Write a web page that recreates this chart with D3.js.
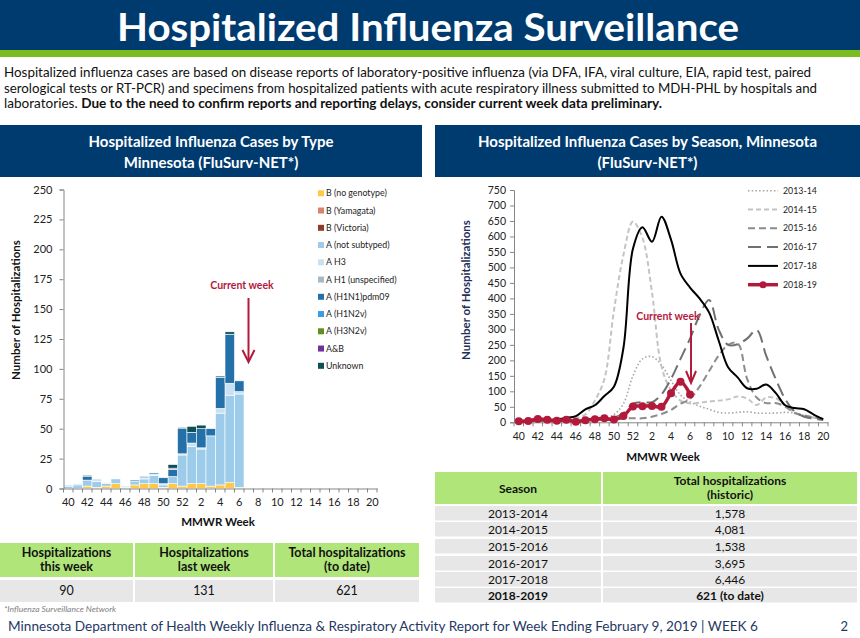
<!DOCTYPE html>
<html><head><meta charset="utf-8">
<script src="https://cdn.jsdelivr.net/npm/d3@7"></script>
<style>
html,body{margin:0;padding:0;background:#fff;}
svg{display:block;font-family:Lato,"Open Sans",sans-serif;}
</style></head><body>
<svg id="c" width="860" height="638"></svg>
<script>
// ---------- DATA ----------
const weeks = ["40","41","42","43","44","45","46","47","48","49","50","51","52","1","2","3","4","5","6","7","8","9","10","11","12","13","14","15","16","17","18","19","20"];
const xTickLabels = ["40","42","44","46","48","50","52","2","4","6","8","10","12","14","16","18","20"];
const dataWeeks = ["40","41","42","43","44","45","46","47","48","49","50","51","52","1","2","3","4","5","6"];

const typeNames = ["B (no genotype)","B (Yamagata)","B (Victoria)","A (not subtyped)","A H3","A H1 (unspecified)","A (H1N1)pdm09","A (H1N2v)","A (H3N2v)","A&B","Unknown"];
const typeColors = ["#FFC846","#D9826C","#8E3B2B","#9DCBEA","#C8E1F3","#A7B9C4","#2470A9","#3A9BE8","#5E8F1F","#7030A0","#0E4E55"];
const bNoGenotype   = [0,0,2,1,2,4,0,3,4,4,1,4,2,4,4,2,3,5,1];
const bYamagata     = [0,0,0,0,0,0,0,0,0,0,0,0,0,0,0,0,0,0,0];
const bVictoria     = [0,0,0,0,0,0,0,0,0,0,0,0,0,0,0,0,0,0,0];
const aNotSubtyped  = [2,3,5,5,2,4,1,3,4,7,2,6,26,31,29,42,60,73,78];
const aH3           = [1,1,0,2,1,0,1,0,1,1,1,0,1,3,1,0,4,10,2];
const aH1Unspec     = [0,0,0,0,0,0,0,0,0,0,0,0,0,0,0,0,0,0,0];
const aH1N1pdm09    = [0,0,3,0,0,0,0,1,1,1,5,6,21,9,16,6,26,41,9];
const aH1N2v        = [0,0,0,0,0,0,0,0,0,0,0,0,0,0,0,0,0,0,0];
const aH3N2v        = [0,0,0,0,0,0,0,0,0,0,0,0,0,0,0,0,0,0,0];
const aAndB         = [0,0,0,0,0,0,0,0,0,0,0,1,0,0,0,0,0,0,0];
const unknown       = [0,0,1,0,0,0,0,0,0,0,0,3,1,5,3,0,1,2,0];
const typeSeries = [bNoGenotype,bYamagata,bVictoria,aNotSubtyped,aH3,aH1Unspec,aH1N1pdm09,aH1N2v,aH3N2v,aAndB,unknown];

const seasonNames = ["2013-14","2014-15","2015-16","2016-17","2017-18","2018-19"];
const s2013 = [3,3,4,4,5,5,6,7,8,12,25,60,150,205,212,185,135,88,66,52,42,32,30,32,34,30,29,30,32,30,22,16,10];
const s2014 = [3,4,5,6,8,10,14,25,70,140,360,540,648,595,420,180,104,70,61,63,67,70,74,83,77,56,80,78,55,32,20,15,10];
const s2015 = [3,3,4,4,5,5,6,6,8,8,10,12,13,13,18,27,40,60,75,115,165,215,250,255,140,80,62,62,51,30,22,16,10];
const s2016 = [3,3,4,4,5,6,6,7,8,10,15,30,60,65,65,90,140,205,270,345,395,300,250,252,270,298,215,140,75,35,18,12,7];
const s2017 = [5,5,8,8,10,14,20,42,55,85,115,240,560,630,583,664,590,480,435,400,355,265,178,145,110,108,122,95,55,46,42,25,10];
const s2018 = [3,4,11,8,5,8,2,7,10,13,9,20,51,52,53,50,94,131,90];

const seasonRows = ["2013-2014","2014-2015","2015-2016","2016-2017","2017-2018","2018-2019"];
const seasonTotals = ["1,578","4,081","1,538","3,695","6,446","621 (to date)"];
const weekHeaders = [["Hospitalizations","this week"],["Hospitalizations","last week"],["Total hospitalizations","(to date)"]];
const weekValues = ["90","131","621"];

// ---------- STYLE ----------
const NAVY = "#003B6F", GREEN = "#7ABD21", TGREEN = "#B0E57A", TGREY = "#E7E7E7", CRIM = "#B3193B";
const svg = d3.select("#c");

// Header
svg.append("rect").attr("x",0).attr("y",0).attr("width",860).attr("height",50).attr("fill",NAVY);
svg.append("rect").attr("x",0).attr("y",50).attr("width",860).attr("height",7).attr("fill",GREEN);
svg.append("text").attr("x",428).attr("y",41).attr("text-anchor","middle").attr("fill","#fff")
  .attr("font-size",38).attr("font-weight",700).attr("textLength",622).attr("lengthAdjust","spacingAndGlyphs")
  .text("Hospitalized Influenza Surveillance");

// Paragraph
const para = [
  {t:"Hospitalized influenza cases are based on disease reports of laboratory-positive influenza (via DFA, IFA, viral culture, EIA, rapid test, paired", w:807},
  {t:"serological tests or RT-PCR) and specimens from hospitalized patients with acute respiratory illness submitted to MDH-PHL by hospitals and", w:813}
];
para.forEach((p,i)=>{
  svg.append("text").attr("x",4).attr("y",77+i*15.5).attr("font-size",12.5).attr("fill","#111")
    .attr("textLength",p.w).attr("lengthAdjust","spacingAndGlyphs").text(p.t);
});
const l3 = svg.append("text").attr("x",4).attr("y",108).attr("font-size",12.5).attr("fill","#111")
  .attr("textLength",658).attr("lengthAdjust","spacingAndGlyphs");
l3.append("tspan").text("laboratories. ");
l3.append("tspan").attr("font-weight",700).text("Due to the need to confirm reports and reporting delays, consider current week data preliminary.");

// Panel headers
function panelHeader(x,w,lines){
  svg.append("rect").attr("x",x).attr("y",125).attr("width",w).attr("height",52).attr("fill",NAVY);
  lines.forEach((l,i)=>svg.append("text").attr("x",x+w/2).attr("y",146.5+i*21).attr("text-anchor","middle")
    .attr("fill","#fff").attr("font-size",15).attr("font-weight",700).text(l));
}
panelHeader(0,422,["Hospitalized Influenza Cases by Type","Minnesota (FluSurv-NET*)"]);
panelHeader(435,425,["Hospitalized Influenza Cases by Season, Minnesota","(FluSurv-NET*)"]);

// ---------- LEFT CHART ----------
const xL = d3.scaleBand().domain(weeks).range([63.5, 63.5+33*9.5]).padding(0);
const yL = d3.scaleLinear().domain([0,250]).range([488.5,189.5]);
const rows = dataWeeks.map((w,i)=>{ const r={week:w}; typeNames.forEach((n,k)=>r[n]=typeSeries[k][i]); return r; });
const stacked = d3.stack().keys(typeNames)(rows);
const gL = svg.append("g");
stacked.forEach((layer,k)=>{
  gL.append("g").attr("fill",typeColors[k]).selectAll("rect").data(layer.filter(d=>d[1]>d[0])).join("rect")
    .attr("x",d=>xL(d.data.week)).attr("width",xL.bandwidth())
    .attr("y",d=>yL(d[1])).attr("height",d=>yL(d[0])-yL(d[1]))
    .attr("stroke","#fff").attr("stroke-width",0.6);
});
const yAxL = svg.append("g").attr("transform",`translate(${xL.range()[0]},0)`)
  .call(d3.axisLeft(yL).tickValues(d3.range(0,251,25)).tickSize(4).tickPadding(7));
const xAxL = svg.append("g").attr("transform",`translate(0,${yL(0)})`)
  .call(d3.axisBottom(xL).tickValues(xTickLabels).tickSize(0).tickPadding(10));
svg.append("g").selectAll("line").data(weeks.concat(["_end"])).join("line")
  .attr("x1",(d,i)=>xL.range()[0]+i*xL.step()).attr("x2",(d,i)=>xL.range()[0]+i*xL.step())
  .attr("y1",yL(0)).attr("y2",yL(0)+4).attr("stroke","#868686");
[yAxL,xAxL].forEach(a=>{a.selectAll("path.domain,line").attr("stroke","#868686");
  a.selectAll("text").attr("font-size",11).attr("fill","#222").attr("font-family","Lato");});
svg.append("text").attr("transform","translate(20,310) rotate(-90)").attr("text-anchor","middle")
  .attr("font-size",11.5).attr("font-weight",700).attr("fill","#111").text("Number of Hospitalizations");
svg.append("text").attr("x",218).attr("y",526).attr("text-anchor","middle")
  .attr("font-size",11.5).attr("font-weight",700).attr("fill","#111").text("MMWR Week");
// current week
svg.append("text").attr("x",242).attr("y",289).attr("text-anchor","middle").attr("font-size",10.5)
  .attr("font-weight",700).attr("fill",CRIM).text("Current week");
const axL = xL("6")+xL.bandwidth()+4.5;
svg.append("line").attr("x1",axL).attr("x2",axL).attr("y1",298).attr("y2",360).attr("stroke",CRIM).attr("stroke-width",2);
svg.append("path").attr("d",`M${axL-6},${350}L${axL},${362}L${axL+6},${350}`).attr("fill","none").attr("stroke",CRIM).attr("stroke-width",2);
// legend
const lg = svg.append("g");
typeNames.forEach((n,k)=>{
  const y = 193.3 + k*17.25;
  lg.append("rect").attr("x",318).attr("y",y-3).attr("width",6).attr("height",6).attr("fill",typeColors[k]);
  lg.append("text").attr("x",326).attr("y",y+3).attr("font-size",8.8).attr("fill","#222").text(n);
});

// ---------- RIGHT CHART ----------
const xR = d3.scaleBand().domain(weeks).range([514, 828]).padding(0);
const yR = d3.scaleLinear().domain([0,750]).range([422.3,190]);
const cx = w => xR(w)+xR.bandwidth()/2;
const yAxR = svg.append("g").attr("transform",`translate(514,0)`)
  .call(d3.axisLeft(yR).tickValues(d3.range(0,751,50)).tickSize(4).tickPadding(4));
const xAxR = svg.append("g").attr("transform",`translate(0,${yR(0)})`)
  .call(d3.axisBottom(xR).tickValues(xTickLabels).tickSize(0).tickPadding(10));
svg.append("g").selectAll("line").data(weeks.concat(["_end"])).join("line")
  .attr("x1",(d,i)=>514+i*xR.step()).attr("x2",(d,i)=>514+i*xR.step())
  .attr("y1",yR(0)).attr("y2",yR(0)+4).attr("stroke","#868686");
[yAxR,xAxR].forEach(a=>{a.selectAll("path.domain,line").attr("stroke","#868686");
  a.selectAll("text").attr("font-size",10.5).attr("fill","#222").attr("font-family","Lato");});
svg.append("text").attr("transform","translate(470,290) rotate(-90)").attr("text-anchor","middle")
  .attr("font-size",11.5).attr("font-weight",700).attr("fill","#1F2F5A").text("Number of Hospitalizations");
svg.append("text").attr("x",663).attr("y",461).attr("text-anchor","middle")
  .attr("font-size",11.5).attr("font-weight",700).attr("fill","#111").text("MMWR Week");

const seasonData = [s2013,s2014,s2015,s2016,s2017,s2018];
const seasonStyle = [
  {c:"#A6A6A6", w:1.6, d:"1.5,2.2"},
  {c:"#C4C4C4", w:2, d:"5,3"},
  {c:"#8C8C8C", w:2, d:"7,4"},
  {c:"#707070", w:2, d:"13,6"},
  {c:"#000000", w:2, d:null},
  {c:CRIM, w:3.5, d:null}
];
const line = d3.line().x(d=>cx(d.w)).y(d=>yR(Math.max(0,d.v))).curve(d3.curveCatmullRom.alpha(0.5));
const gR = svg.append("g");
seasonData.forEach((arr,k)=>{
  const pts = arr.map((v,i)=>({w:weeks[i],v}));
  const p = gR.append("path").attr("d",line(pts)).attr("fill","none").attr("stroke",seasonStyle[k].c)
    .attr("stroke-width",seasonStyle[k].w).attr("stroke-linejoin","round");
  if(seasonStyle[k].d) p.attr("stroke-dasharray",seasonStyle[k].d);
  if(k===5){
    gR.append("g").selectAll("circle").data(pts).join("circle").attr("cx",d=>cx(d.w)).attr("cy",d=>yR(d.v))
      .attr("r",4).attr("fill",CRIM);
  }
});
// current week right
svg.append("text").attr("x",668).attr("y",320).attr("text-anchor","middle").attr("font-size",10.5)
  .attr("font-weight",700).attr("fill",CRIM).text("Current week");
const axR = cx("6")+1;
svg.append("line").attr("x1",axR).attr("x2",axR).attr("y1",323).attr("y2",381).attr("stroke",CRIM).attr("stroke-width",2);
svg.append("path").attr("d",`M${axR-5},${371}L${axR},${383}L${axR+5},${371}`).attr("fill","none").attr("stroke",CRIM).attr("stroke-width",2);
// legend right
seasonNames.forEach((n,k)=>{
  const y = 190.7 + k*18.8;
  const st = seasonStyle[k];
  const l = svg.append("line").attr("x1",748).attr("x2",778).attr("y1",y).attr("y2",y)
    .attr("stroke",st.c).attr("stroke-width",st.w);
  if(st.d) l.attr("stroke-dasharray",st.d);
  if(k===5) svg.append("circle").attr("cx",763).attr("cy",y).attr("r",3.5).attr("fill",CRIM);
  svg.append("text").attr("x",783).attr("y",y+3).attr("font-size",8.8).attr("fill","#222").text(n);
});

// ---------- TABLES ----------
// left table
const colL = [[0,133],[135,138],[275,144]];
colL.forEach((c,i)=>{
  svg.append("rect").attr("x",c[0]).attr("y",543).attr("width",c[1]).attr("height",34).attr("fill",TGREEN);
  svg.append("rect").attr("x",c[0]).attr("y",580).attr("width",c[1]).attr("height",22).attr("fill",TGREY);
  weekHeaders[i].forEach((t,j)=>svg.append("text").attr("x",c[0]+c[1]/2).attr("y",557+j*14).attr("text-anchor","middle")
    .attr("font-size",12.5).attr("font-weight",700).attr("fill","#111").text(t));
  svg.append("text").attr("x",c[0]+c[1]/2).attr("y",595).attr("text-anchor","middle")
    .attr("font-size",12.5).attr("fill","#111").text(weekValues[i]);
});
// right table
const colR = [[435,166],[603,254]];
colR.forEach(c=>svg.append("rect").attr("x",c[0]).attr("y",472).attr("width",c[1]).attr("height",32).attr("fill",TGREEN));
svg.append("text").attr("x",518).attr("y",493).attr("text-anchor","middle").attr("font-size",12).attr("font-weight",700).attr("fill","#111").text("Season");
svg.append("text").attr("x",730).attr("y",485).attr("text-anchor","middle").attr("font-size",12).attr("font-weight",700).attr("fill","#111").text("Total hospitalizations");
svg.append("text").attr("x",730).attr("y",499).attr("text-anchor","middle").attr("font-size",12).attr("font-weight",700).attr("fill","#111").text("(historic)");
const rowY = [506,522,539,556,572,588];
seasonRows.forEach((s,i)=>{
  colR.forEach(c=>svg.append("rect").attr("x",c[0]).attr("y",rowY[i]).attr("width",c[1]).attr("height",14.5).attr("fill",TGREY));
  const bold = i===seasonRows.length-1 ? 700 : 400;
  svg.append("text").attr("x",518).attr("y",rowY[i]+11.5).attr("text-anchor","middle").attr("font-size",12).attr("font-weight",bold).attr("fill","#111").text(s);
  svg.append("text").attr("x",730).attr("y",rowY[i]+11.5).attr("text-anchor","middle").attr("font-size",12).attr("font-weight",bold).attr("fill","#111").text(seasonTotals[i]);
});

// footnote & footer
svg.append("text").attr("x",4).attr("y",612).attr("font-size",8.5).attr("font-style","italic").attr("fill","#808080").text("*Influenza Surveillance Network");
svg.append("text").attr("x",8).attr("y",631).attr("font-size",13).attr("fill","#1F3864")
  .attr("textLength",750).attr("lengthAdjust","spacingAndGlyphs")
  .text("Minnesota Department of Health Weekly Influenza & Respiratory Activity Report for Week Ending February 9, 2019 | WEEK 6");
svg.append("text").attr("x",848).attr("y",631).attr("text-anchor","end").attr("font-size",13).attr("fill","#1F3864").text("2");
</script></body></html>
